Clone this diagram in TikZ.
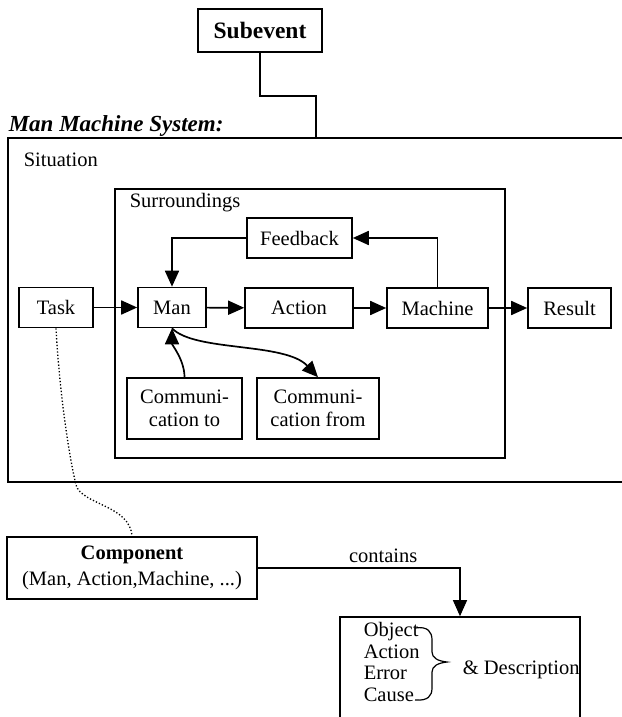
\documentclass[tikz,border=0pt]{standalone}
\usepackage{fontspec}
\setmainfont{Liberation Serif}
\usetikzlibrary{arrows.meta}

\begin{document}
\begin{tikzpicture}[x=1pt,y=-1pt,line width=1.6pt,
	font=\fontsize{20.5}{23}\selectfont,
	box/.style={draw,inner sep=0pt,align=center,minimum height=40pt},
	lbl/.style={inner sep=0pt,anchor=west},
	arr/.style={-{Triangle[length=16pt,width=14pt]},line width=1.7pt}]
\useasboundingbox (0,0) rectangle (621,717);

% top part
\node[box,minimum width=124pt,minimum height=43pt,font=\fontsize{23.5}{26}\selectfont\bfseries] (subev) at (260,30.5) {Subevent};
\node[lbl,font=\fontsize{23}{26}\selectfont\bfseries\itshape] (title) at (8,126) {Man Machine System:};
\coordinate (bend) at (316,96);
\coordinate (sittop) at (316,138);
\draw[line width=1.2pt] (subev.south) |- (bend) -- (sittop);

% frames
\draw (625,138) -- (8,138) -- (8,482) -- (625,482);
\node[lbl] (sit) at (23,160) {Situation};
\draw (115,189) rectangle (505,458);
\node[lbl] (surr) at (129,203) {Surroundings};

% boxes
\node[box,minimum width=105pt] (feedback) at (299.5,238) {Feedback};
\node[box,minimum width=74pt] (task) at (56,307.5) {Task};
\node[box,minimum width=68pt] (man) at (172,307.5) {Man};
\node[box,minimum width=108pt] (action) at (299,308) {Action};
\node[box,minimum width=101pt] (machine) at (437.5,308) {Machine};
\node[box,minimum width=83pt] (result) at (569.5,308) {Result};
\node[box,minimum width=115pt,minimum height=61pt] (cto) at (184.5,408.5) {Communi-\\cation to};
\node[box,minimum width=122pt,minimum height=61pt] (cfrom) at (318,408.5) {Communi-\\cation from};
\node[box,minimum width=250pt,minimum height=62pt] (comp) at (132,568) {\textbf{Component}\\[3pt](Man, Action,Machine, ...)};
\node[box,minimum width=240pt,minimum height=124pt] (desc) at (460,679) {};

% arrows
\foreach \a/\b in {task/man,man/action,action/machine,machine/result}
	\draw[arr] (\a) -- (\b);
\draw[arr] (feedback.west) -| (man.north);
\draw[arr] (machine.north) |- (feedback.east);
\draw[arr] (cto.north) .. controls (184.5,360) and (172,345) .. (man.south);
\draw[arr] (man.south) .. controls (195,352) and (285,342) .. (cfrom.north);
\draw[dotted,line width=1.3pt] (task.south) .. controls (60,400) and (70,460) .. (76,485) .. controls (82,505) and (130,505) .. (comp.north);
\draw[line width=1.1pt,-{Triangle[length=16pt,width=14pt]}] (comp.east) -| node[pos=0.31,above=5pt,inner sep=0pt] (contains) {contains} (desc.north);

% description
\node[lbl,align=left,font=\fontsize{20.5}{21.7}\selectfont] (items) at (363,662) {Object\\Action\\Error\\Cause};
\draw[line width=1.2pt] (415,628) .. controls (428,626) and (432,632) .. (432,640) -- (432,652) .. controls (432,658) and (438,661) .. (447,662) .. controls (438,663) and (432,666) .. (432,672) -- (432,688) .. controls (432,696) and (428,701) .. (415,700);
\node[lbl] (descr) at (462,670) {\& Description};
\end{tikzpicture}
\end{document}
